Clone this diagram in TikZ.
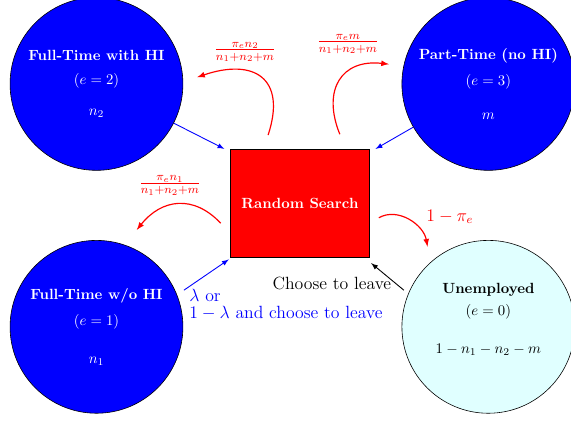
\documentclass[tikz,border=0pt]{standalone}
\usepackage{amsmath}
\usepackage{xcolor}

\definecolor{idlecyan}{RGB}{224,255,255}

\begin{document}
\begin{tikzpicture}[
  state/.style={circle,draw,minimum size=4.12cm,inner sep=0pt,align=center},
  busy/.style={state,fill=blue,text=white},
  idle/.style={state,fill=idlecyan,text=black},
  search/.style={rectangle,draw,fill=red,minimum width=3.31cm,minimum height=2.57cm,
                 text=white,font=\bfseries},
  flow/.style={->,semithick,blue},
  hop/.style={->,thick,red},
  lbl/.style={font=\large},
  >=latex
]

  \useasboundingbox (-7.15,-5.20) rectangle (6.46,4.84);

  %% ===== STATES =====

  % central search box
  \node[search] (rs) at (0,0) {Random Search};

  % employed states
  \node[busy] (ft2) at (-4.85,2.84)
    {\textbf{Full-Time with HI}\\[4.7pt] $(e=2)$\\[8.7pt] $n_2$};
  \node[busy] (pt) at (4.49,2.84)
    {\textbf{Part-Time (no HI)}\\[5.4pt] $(e=3)$\\[10.7pt] $m$};
  \node[busy] (ft1) at (-4.85,-2.95)
    {\textbf{Full-Time w/o HI}\\[5.6pt] $(e=1)$\\[14pt] $n_1$};

  % unemployed state
  \node[idle] (un) at (4.49,-2.95)
    {\textbf{Unemployed}\\[3.4pt] $(e=0)$\\[13.3pt] $1-n_1-n_2-m$\\ \mbox{}};

  %% ===== FLOWS INTO SEARCH =====

  \draw[flow] (ft2) -- ([xshift=-4pt]rs.north west);
  \draw[flow] (pt) -- ([xshift=4pt]rs.north east);
  \draw[flow] ([xshift=6pt]ft1.25) -- ([shift={(-1pt,-1.5pt)}]rs.south west);
  \draw[->,semithick] ([xshift=-4pt]un.155) -- ([shift={(1pt,-4pt)}]rs.south east);

  \node[lbl,align=left,text=blue,anchor=west] (lam) at (-2.76,-2.42)
    {$\lambda$ or\\[-2.6pt] $1-\lambda$ and choose to leave};
  \node[lbl] (leave) at (0.76,-1.91) {Choose to leave};

  %% ===== HOPS OUT OF SEARCH =====

  % to full-time with HI
  \coordinate (h2s) at (-0.76,1.62);
  \coordinate (h2e) at (-2.45,3.00);
  \draw[hop] (h2s) .. controls (-0.31,2.98) and (-1.10,3.46) .. (h2e);
  \node[lbl,text=red] (frac2) at (-1.31,3.60) {$\frac{\pi_e n_2}{n_1+n_2+m}$};

  % to part-time
  \coordinate (h3s) at (0.95,1.64);
  \coordinate (h3e) at (2.12,3.31);
  \draw[hop] (h3s) .. controls (0.52,2.70) and (0.99,3.44) .. (h3e);
  \node[lbl,text=red] (frac3) at (1.14,3.79) {$\frac{\pi_e m}{n_1+n_2+m}$};

  % to full-time w/o HI
  \coordinate (h1s) at (-1.89,-0.48);
  \coordinate (h1e) at (-3.89,-0.64);
  \draw[hop] (h1s) .. controls (-2.54,0.21) and (-3.30,0.10) .. (h1e);
  \node[lbl,text=red] (frac1) at (-3.10,0.42) {$\frac{\pi_e n_1}{n_1+n_2+m}$};

  % stay unemployed
  \coordinate (h0s) at (1.88,-0.35);
  \coordinate (h0e) at (3.04,-1.04);
  \draw[hop] (h0s) .. controls (2.34,-0.09) and (2.95,-0.52) .. (h0e);
  \node[lbl,text=red] (stay) at (3.57,-0.33) {$1-\pi_e$};

\end{tikzpicture}
\end{document}
